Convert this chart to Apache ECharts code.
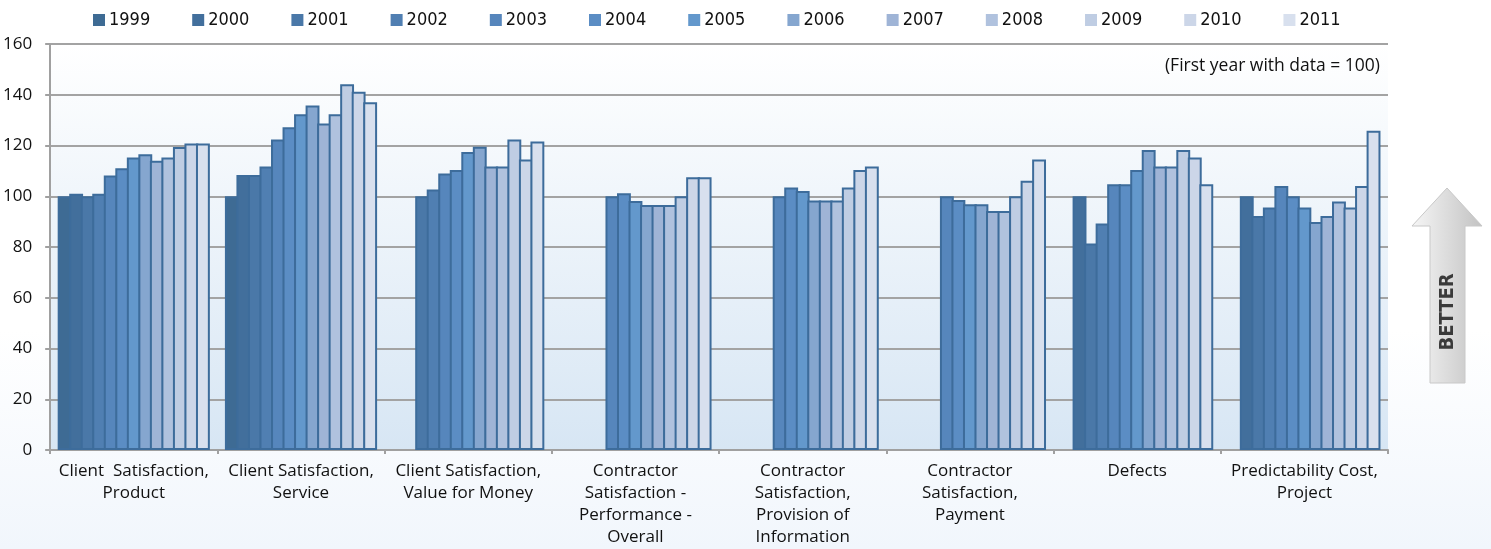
<!DOCTYPE html>
<html>
<head>
<meta charset="utf-8">
<script src="https://cdn.jsdelivr.net/npm/echarts@6/dist/echarts.min.js"></script>
<style>
html,body{margin:0;padding:0;background:#fff;}
#chart{width:1491px;height:549px;}
</style>
</head>
<body>
<div id="chart"></div>
<script>
var categories = [
  "Client  Satisfaction,\nProduct",
  "Client Satisfaction,\nService",
  "Client Satisfaction,\nValue for Money",
  "Contractor\nSatisfaction -\nPerformance -\nOverall",
  "Contractor\nSatisfaction,\nProvision of\nInformation",
  "Contractor\nSatisfaction,\nPayment",
  "Defects",
  "Predictability Cost,\nProject"
];
var years = ["1999","2000","2001","2002","2003","2004","2005","2006","2007","2008","2009","2010","2011"];
var v1999 = [100, 100, null, null, null, null, null, null];
var v2000 = [101, 108.4, null, null, null, null, 100, 100];
var v2001 = [100, 108.4, 100, null, null, null, 81.4, 92.2];
var v2002 = [101, 111.7, 102.7, null, null, null, 89.3, 95.6];
var v2003 = [108.2, 122.4, 109, 100, 100, 100, 104.7, 104];
var v2004 = [111, 127.2, 110.3, 101.2, 103.4, 98.5, 104.7, 100];
var v2005 = [115.3, 132.3, 117.4, 98.1, 102.1, 96.8, 110.3, 95.6];
var v2006 = [116.6, 135.8, 119.5, 96.6, 98.3, 96.8, 118.2, 89.9];
var v2007 = [114, 128.7, 111.7, 96.6, 98.3, 94.2, 111.7, 92.2];
var v2008 = [115.3, 132.3, 111.7, 96.6, 98.3, 94.2, 111.7, 97.9];
var v2009 = [119.4, 144.1, 122.4, 100, 103.4, 100, 118.2, 95.6];
var v2010 = [120.8, 141.2, 114.5, 107.5, 110.3, 106.1, 115.3, 104];
var v2011 = [120.8, 137, 121.6, 107.5, 111.7, 114.5, 104.7, 125.8];
var yTicks = [0, 20, 40, 60, 80, 100, 120, 140, 160];

var values = [v1999, v2000, v2001, v2002, v2003, v2004, v2005, v2006, v2007, v2008, v2009, v2010, v2011];
var colors = ["#3e6b94","#426f9c","#4a78a8","#507fb2","#5686bc","#5b8dc4","#6398cc","#85a6cf","#9fb4d6","#b0c2de","#bfcde3","#ccd6e8","#d8e0ee"];

var series = years.map(function(y, i){
  return {
    name: y, type: 'bar', data: values[i],
    barGap: '-17%', barCategoryGap: '9%',
    itemStyle: {color: colors[i], borderColor: '#3d6c9b', borderWidth: 2},
    emphasis: {disabled: true},
    animation: false
  };
});

var chart = echarts.init(document.getElementById('chart'), null, {renderer: 'canvas'});
chart.setOption({
  animation: false,
  backgroundColor: new echarts.graphic.LinearGradient(0, 0, 0, 1, [
    {offset: 0, color: '#ffffff'}, {offset: 0.6, color: '#ffffff'}, {offset: 1, color: '#f1f6fc'}
  ]),
  color: colors,
  legend: {
    top: 6, left: 88,
    itemWidth: 12, itemHeight: 12, itemGap: 42,
    icon: 'rect',
    data: years,
    textStyle: {fontFamily: '"Liberation Sans Narrow","DejaVu Sans Condensed",sans-serif', fontSize: 18, color: '#111', width: 41, padding: [0,0,0,-1]},
    itemStyle: {borderWidth: 0}
  },
  grid: {
    left: 50, right: 103, top: 44, bottom: 99, show: true, borderWidth: 0,
    backgroundColor: new echarts.graphic.LinearGradient(0, 0, 0, 1, [
      {offset: 0, color: '#ffffff'}, {offset: 1, color: '#d7e6f4'}
    ])
  },
  xAxis: {
    type: 'category', data: categories,
    axisLine: {lineStyle: {color: '#a0a0a0', width: 2}},
    axisTick: {show: true, length: 4, lineStyle: {color: '#a0a0a0', width: 2}},
    axisLabel: {interval: 0, margin: 10, fontFamily: '"Open Sans",sans-serif', fontSize: 17, lineHeight: 22, color: '#111'}
  },
  yAxis: {
    type: 'value', min: yTicks[0], max: yTicks[yTicks.length-1], interval: 20,
    axisLine: {show: true, lineStyle: {color: '#a0a0a0', width: 2}},
    axisTick: {show: true, length: 5, lineStyle: {color: '#a0a0a0', width: 2}},
    axisLabel: {margin: 18, fontFamily: '"Open Sans",sans-serif', fontSize: 17, color: '#111'},
    splitLine: {lineStyle: {color: '#a3a3a3', width: 2}}
  },
  series: series,
  graphic: [
    {
      type: 'text', right: 111, top: 57,
      style: {text: '(First year with data = 100)', fontFamily: '"Open Sans",sans-serif', fontSize: 17.5, fill: '#111'}
    },
    {
      type: 'polygon',
      shape: {points: [[1447,188],[1482,226],[1465,226],[1465,383],[1430,383],[1430,226],[1412,226]]},
      style: {
        fill: new echarts.graphic.LinearGradient(0, 0, 1, 0, [
          {offset: 0, color: '#f6f6f6'}, {offset: 1, color: '#c2c2c2'}
        ]),
        stroke: '#c8c8c8', lineWidth: 1
      }
    },
    {
      type: 'text', x: 1448, y: 312, rotation: Math.PI/2,
      style: {text: 'BETTER', fontFamily: '"Liberation Sans Narrow","DejaVu Sans Condensed",sans-serif', fontWeight: 'bold', fontSize: 20, fill: '#3a3a3a', align: 'center', verticalAlign: 'middle'}
    }
  ]
});
</script>
</body>
</html>
